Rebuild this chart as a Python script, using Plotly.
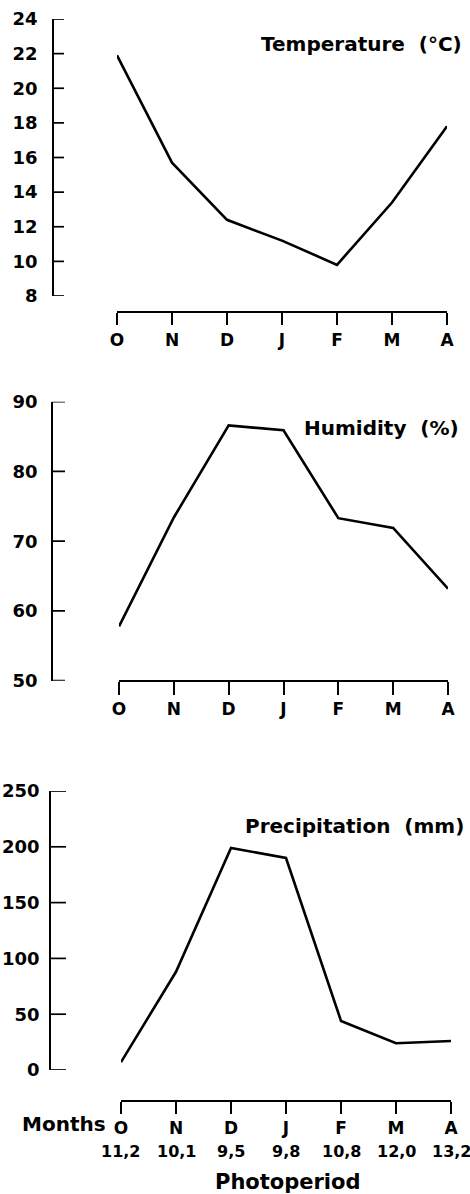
import plotly.graph_objects as go

months = ["O", "N", "D", "J", "F", "M", "A"]
photoperiod = ["11,2", "10,1", "9,5", "9,8", "10,8", "12,0", "13,2"]
temperature = [21.9, 15.7, 12.4, 11.2, 9.8, 13.4, 17.8]
humidity = [57.8, 73.4, 86.6, 85.9, 73.3, 71.9, 63.2]
precipitation = [7, 88, 199, 190, 44, 24, 26]

temp_ticks = [8, 10, 12, 14, 16, 18, 20, 22, 24]
hum_ticks = [50, 60, 70, 80, 90]
prec_ticks = [0, 50, 100, 150, 200, 250]

W, H = 470, 1194
FONT = "DejaVu Sans"


def px(x):
    return x / W


def py(y):
    return 1 - y / H


xi = list(range(len(months)))

fig = go.Figure()
line = dict(color="black", width=2.6)
fig.add_trace(go.Scatter(x=xi, y=temperature, mode="lines", line=line, xaxis="x", yaxis="y"))
fig.add_trace(go.Scatter(x=xi, y=humidity, mode="lines", line=line, xaxis="x2", yaxis="y2"))
fig.add_trace(go.Scatter(x=xi, y=precipitation, mode="lines", line=line, xaxis="x3", yaxis="y3"))

tickfont = dict(family=FONT, size=18, color="black", weight="bold")
monthfont = dict(family=FONT, size=17, color="black", weight="bold")


def yax(domain, pos, rng, ticks, standoff):
    return dict(domain=domain, anchor="free", position=pos, range=rng,
                tickmode="array", tickvals=ticks, ticktext=[str(t) for t in ticks],
                ticks="", showline=True, linecolor="black", linewidth=1.7, showgrid=False,
                zeroline=False, tickfont=tickfont, ticklabelstandoff=standoff,
                automargin=False, fixedrange=True)


def xax(domain, pos, ticklen, standoff, ticktext):
    return dict(domain=domain, anchor="free", position=pos, range=[0, 6],
                tickmode="array", tickvals=xi, ticktext=ticktext,
                ticks="outside", ticklen=ticklen, tickwidth=1.7, tickcolor="black",
                showline=True, linecolor="black", linewidth=2, showgrid=False,
                zeroline=False, tickfont=monthfont, ticklabelstandoff=standoff,
                automargin=False, fixedrange=True)


fig.update_layout(
    width=W, height=H, autosize=False,
    margin=dict(l=0, r=0, t=0, b=0, pad=0, autoexpand=False),
    paper_bgcolor="white", plot_bgcolor="white",
    showlegend=False,
    yaxis=yax([py(296), py(19)], px(53), [8, 24], temp_ticks, 11),
    xaxis=xax([px(117), px(447)], py(311.5), 12, 1, months),
    yaxis2=yax([py(680.7), py(401.7)], px(52), [50, 90], hum_ticks, 10),
    xaxis2=xax([px(119), px(448)], py(680.7), 13, 0, months),
    yaxis3=yax([py(1070), py(791)], px(50), [0, 250], prec_ticks, 6),
    xaxis3=xax([px(121), px(451)], py(1100.5), 12, 0, months),
)

# y-axis tick marks pointing right of each axis line, at the tick values
shapes = []
for yref, ticks, axis_x, ticklen in (("y", temp_ticks, 53, 11),
                                     ("y2", hum_ticks, 52, 13),
                                     ("y3", prec_ticks, 50, 16)):
    for t in ticks:
        shapes.append(dict(type="line", xref="paper", yref=yref,
                           x0=px(axis_x), x1=px(axis_x + ticklen), y0=t, y1=t,
                           line=dict(color="black", width=1.7), layer="above"))
fig.update_layout(shapes=shapes)

titlefont = dict(family=FONT, size=20, color="black", weight="bold")
annotations = [
    dict(text="Temperature\u00a0 (°C)", x=px(464), y=py(44), xref="paper", yref="paper",
         xanchor="right", yanchor="middle", showarrow=False, font=titlefont),
    dict(text="Humidity\u00a0 (%)", x=px(461), y=py(428), xref="paper", yref="paper",
         xanchor="right", yanchor="middle", showarrow=False, font=titlefont),
    dict(text="Precipitation\u00a0 (mm)", x=px(466), y=py(826), xref="paper", yref="paper",
         xanchor="right", yanchor="middle", showarrow=False, font=titlefont),
    dict(text="Months", x=px(108), y=py(1124), xref="paper", yref="paper",
         xanchor="right", yanchor="middle", showarrow=False,
         font=dict(family=FONT, size=20, color="black", weight="bold")),
    dict(text="Photoperiod", x=px(288), y=py(1182), xref="paper", yref="paper",
         xanchor="center", yanchor="middle", showarrow=False,
         font=dict(family=FONT, size=21, color="black", weight="bold")),
]
for i, p in enumerate(photoperiod):
    annotations.append(dict(text=p, x=i, y=py(1151), xref="x3", yref="paper",
                            xanchor="center", yanchor="middle", showarrow=False,
                            font=dict(family=FONT, size=16, color="black", weight="bold")))
fig.update_layout(annotations=annotations)

fig.write_html("out.html", config={"displayModeBar": False},
               post_script="document.body.style.margin='0';document.body.style.padding='0';")
